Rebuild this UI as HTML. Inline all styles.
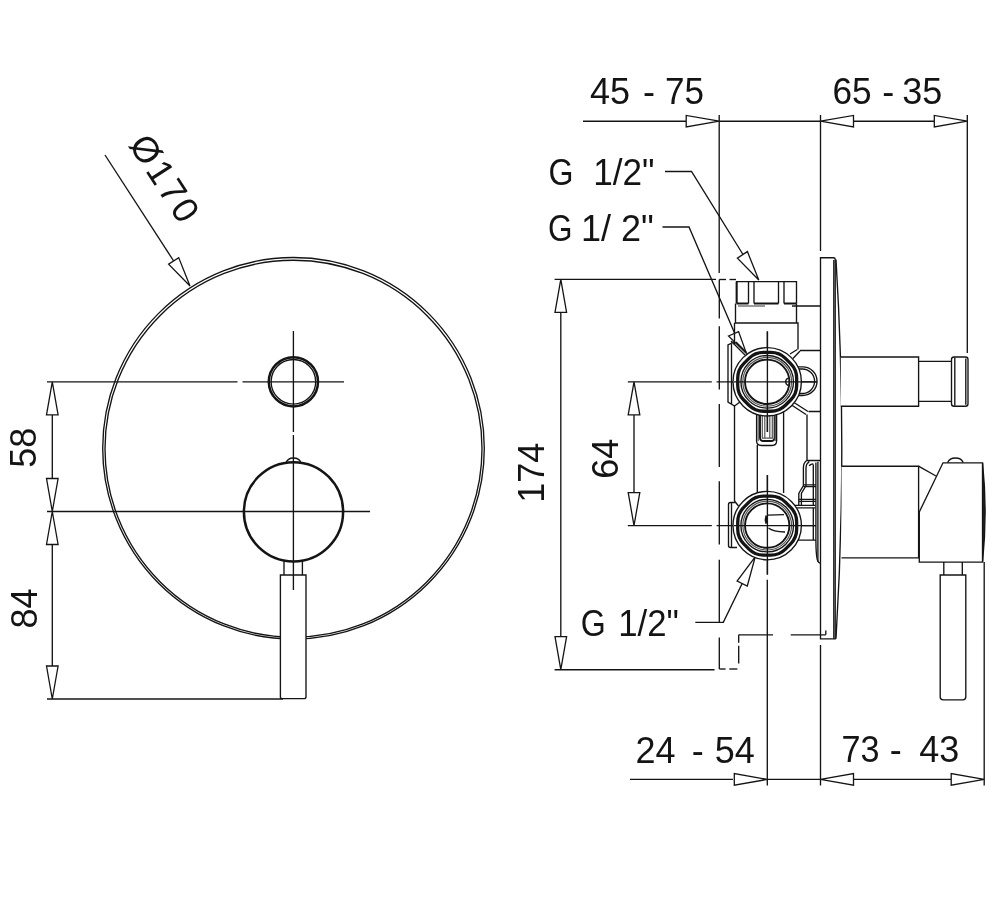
<!DOCTYPE html>
<html lang="en"><head><meta charset="utf-8"><title>Concealed mixer technical drawing</title>
<style>
html,body{margin:0;padding:0;background:#fff;}
body{width:1000px;height:911px;overflow:hidden;}
svg{display:block;}
text{font-family:"Liberation Sans",sans-serif;fill:#141414;}
.t{stroke:#141414;stroke-width:1.35;fill:none;}
.g{stroke:#555;stroke-width:1.2;fill:none;}
.m{stroke:#141414;stroke-width:1.9;fill:none;}
.k{stroke:#141414;stroke-width:2.5;fill:none;}
.kk{stroke:#141414;stroke-width:3.3;fill:none;stroke-linejoin:round;}
.a{stroke:#141414;stroke-width:1.3;fill:#fff;stroke-linejoin:miter;}
.w{fill:#fff;}
</style></head><body>
<svg width="1000" height="911" viewBox="0 0 1000 911">
<defs><filter id="gs" x="-20%" y="-20%" width="140%" height="140%" color-interpolation-filters="sRGB"><feColorMatrix type="saturate" values="0"/></filter></defs>
<rect x="0" y="0" width="1000" height="911" fill="#fff"/>
<!-- left figure -->
<circle class="t" cx="293.5" cy="448.3" r="190.8"/>
<circle class="t" cx="293.5" cy="448.7" r="188.5"/>
<line class="t" x1="47" y1="381.8" x2="237.5" y2="381.8"/>
<line class="t" x1="242.5" y1="381.8" x2="344" y2="381.8"/>
<line class="t" x1="47" y1="511.5" x2="370" y2="511.5"/>
<line class="t" x1="47" y1="699" x2="283" y2="699"/>
<line class="t" x1="293.4" y1="331" x2="293.4" y2="432"/>
<line class="t" x1="293.4" y1="435" x2="293.4" y2="590"/>
<circle class="k" cx="293.4" cy="381.8" r="24.6"/>
<circle class="t" cx="293.4" cy="381.8" r="22.3"/>
<path class="t" d="M285.8,463.2 C288,456.3 299,456.3 301.2,463.2"/>
<circle class="k" cx="293.5" cy="511.8" r="49.6"/>
<path class="t" d="M284,561 V575 M302.4,561 V575"/>
<path class="t w" d="M280.4,575 H306 V697 Q306,698.6 304,698.6 H282.4 Q280.4,698.6 280.4,697 Z"/>
<line class="t" x1="293.4" y1="575" x2="293.4" y2="590"/>
<line class="t" x1="52.3" y1="415" x2="52.3" y2="478"/>
<line class="t" x1="52.3" y1="545" x2="52.3" y2="666"/>
<polygon class="a" points="52.3,381.8 58.1,414.8 46.5,414.8"/>
<polygon class="a" points="52.3,511.5 46.5,478.5 58.1,478.5"/>
<polygon class="a" points="52.3,511.5 58.1,544.5 46.5,544.5"/>
<polygon class="a" points="52.3,699.0 46.5,666.0 58.1,666.0"/>
<g filter="url(#gs)"><text x="35.7" y="447.8" font-size="36" text-anchor="middle" transform="rotate(-90 35.7 447.8)">58</text></g>
<g filter="url(#gs)"><text x="36.5" y="608.5" font-size="36" text-anchor="middle" transform="rotate(-90 36.5 608.5)">84</text></g>
<line class="t" x1="105" y1="155" x2="174" y2="261.5"/>
<polygon class="a" points="190.0,286.0 168.6,264.1 178.7,257.6"/>
<g filter="url(#gs)"><text x="128" y="144.8" font-size="36" text-anchor="start" transform="rotate(57 128 144.8)" letter-spacing="2.6">Ø170</text></g>
<!-- right figure: dimensions -->
<line class="t" x1="583" y1="121.2" x2="686" y2="121.2"/>
<line class="t" x1="719.2" y1="121.2" x2="820.5" y2="121.2"/>
<line class="t" x1="854" y1="121.2" x2="934" y2="121.2"/>
<line class="t" x1="719.2" y1="115" x2="719.2" y2="273"/>
<line class="t" x1="820.5" y1="115" x2="820.5" y2="251"/>
<line class="t" x1="967.3" y1="115" x2="967.3" y2="353"/>
<polygon class="a" points="719.2,121.2 686.2,127.0 686.2,115.4"/>
<polygon class="a" points="820.5,121.2 853.5,115.4 853.5,127.0"/>
<polygon class="a" points="967.3,121.2 934.3,127.0 934.3,115.4"/>
<g filter="url(#gs)"><text x="590" y="104.3" font-size="36" text-anchor="start">45</text></g>
<g filter="url(#gs)"><text x="643" y="104.3" font-size="36" text-anchor="start">-</text></g>
<g filter="url(#gs)"><text x="665" y="104.3" font-size="36" text-anchor="start" textLength="39" lengthAdjust="spacingAndGlyphs">75</text></g>
<g filter="url(#gs)"><text x="832.4" y="104.3" font-size="36" text-anchor="start" textLength="39.2" lengthAdjust="spacingAndGlyphs">65</text></g>
<g filter="url(#gs)"><text x="882.2" y="104.3" font-size="36" text-anchor="start">-</text></g>
<g filter="url(#gs)"><text x="902.2" y="104.3" font-size="36" text-anchor="start">35</text></g>
<line class="t" x1="630" y1="779.4" x2="733" y2="779.4"/>
<line class="t" x1="767.3" y1="779.4" x2="820.5" y2="779.4"/>
<line class="t" x1="854" y1="779.4" x2="951" y2="779.4"/>
<line class="t" x1="767.3" y1="579.8" x2="767.3" y2="785.5"/>
<line class="t" x1="820.5" y1="645" x2="820.5" y2="785.5"/>
<line class="t" x1="984.2" y1="562" x2="984.2" y2="785.5"/>
<polygon class="a" points="767.3,779.4 734.3,785.2 734.3,773.6"/>
<polygon class="a" points="820.5,779.4 853.5,773.6 853.5,785.2"/>
<polygon class="a" points="984.2,779.4 951.2,785.2 951.2,773.6"/>
<g filter="url(#gs)"><text x="635.6" y="762.6" font-size="36" text-anchor="start">24</text></g>
<g filter="url(#gs)"><text x="691.8" y="762.6" font-size="36" text-anchor="start">-</text></g>
<g filter="url(#gs)"><text x="714.7" y="762.6" font-size="36" text-anchor="start">54</text></g>
<g filter="url(#gs)"><text x="841.6" y="762.4" font-size="36" text-anchor="start" textLength="38" lengthAdjust="spacingAndGlyphs">73</text></g>
<g filter="url(#gs)"><text x="889.8" y="762.4" font-size="36" text-anchor="start">-</text></g>
<g filter="url(#gs)"><text x="919.2" y="762.4" font-size="36" text-anchor="start">43</text></g>
<line class="t" x1="554.6" y1="279.3" x2="716" y2="279.3"/>
<line class="t" x1="554.6" y1="669.7" x2="714.5" y2="669.7"/>
<line class="t" x1="560.8" y1="312" x2="560.8" y2="636"/>
<polygon class="a" points="560.8,279.3 566.6,312.3 555.0,312.3"/>
<polygon class="a" points="560.8,669.7 555.0,636.7 566.6,636.7"/>
<g filter="url(#gs)"><text x="544" y="472.8" font-size="36" text-anchor="middle" transform="rotate(-90 544 472.8)">174</text></g>
<line class="t" x1="627.8" y1="381.8" x2="711.8" y2="381.8"/>
<line class="t" x1="627.8" y1="525.6" x2="711.8" y2="525.6"/>
<line class="t" x1="634" y1="415" x2="634" y2="492"/>
<polygon class="a" points="634.0,381.8 639.8,414.8 628.2,414.8"/>
<polygon class="a" points="634.0,525.6 628.2,492.6 639.8,492.6"/>
<g filter="url(#gs)"><text x="617.6" y="458.8" font-size="36" text-anchor="middle" transform="rotate(-90 617.6 458.8)">64</text></g>
<g filter="url(#gs)"><text x="548.5" y="185" font-size="36" text-anchor="start" textLength="25" lengthAdjust="spacingAndGlyphs">G</text></g>
<g filter="url(#gs)"><text x="593.3" y="185" font-size="36" text-anchor="start" textLength="61.3" lengthAdjust="spacingAndGlyphs">1/2"</text></g>
<g filter="url(#gs)"><text x="548" y="240.5" font-size="36" text-anchor="start" textLength="24.5" lengthAdjust="spacingAndGlyphs">G</text></g>
<g filter="url(#gs)"><text x="581" y="240.5" font-size="36" text-anchor="start">1/</text></g>
<g filter="url(#gs)"><text x="621" y="240.5" font-size="36" text-anchor="start">2"</text></g>
<g filter="url(#gs)"><text x="580.7" y="636" font-size="36" text-anchor="start" textLength="25" lengthAdjust="spacingAndGlyphs">G</text></g>
<g filter="url(#gs)"><text x="618.2" y="636" font-size="36" text-anchor="start" textLength="60.6" lengthAdjust="spacingAndGlyphs">1/2"</text></g>
<path class="t" d="M665,171.5 H691.5 L743,254.5"/>
<polygon class="a" points="758.8,280.0 737.4,258.1 747.4,251.6"/>
<path class="t" d="M662.5,227 H689 L735,334"/>
<polygon class="a" points="728.5,336 738.6,331.6 746.5,353.6"/>
<path class="t" d="M695.3,622.3 H723.3 L742.3,583.3"/>
<polygon class="a" points="755.2,556.9 747.3,586.0 737.1,581.0"/>
<!-- right figure: hidden/dashed outline -->
<line class="t" x1="719.3" y1="279.5" x2="719.3" y2="318.4"/>
<line class="t" x1="719.3" y1="326.3" x2="719.3" y2="389.6"/>
<line class="t" x1="719.3" y1="404" x2="719.3" y2="466.9"/>
<line class="t" x1="719.3" y1="481.3" x2="719.3" y2="544.6"/>
<line class="t" x1="719.3" y1="559.8" x2="719.3" y2="622.3"/>
<line class="t" x1="719.3" y1="637.6" x2="719.3" y2="669"/>
<line class="t" x1="719.3" y1="279.5" x2="726" y2="279.5"/>
<line class="t" x1="729.5" y1="279.5" x2="736" y2="279.5"/>
<line class="t" x1="719.3" y1="669" x2="725.6" y2="669"/>
<line class="t" x1="729.3" y1="669" x2="737.4" y2="669"/>
<line class="t" x1="738.7" y1="634.8" x2="738.7" y2="642.8"/>
<line class="t" x1="738.7" y1="645.7" x2="738.7" y2="663.5"/>
<line class="t" x1="738.7" y1="634.8" x2="773" y2="634.8"/>
<!-- right figure: valve body -->
<line class="t" x1="716.6" y1="381.8" x2="817" y2="381.8"/>
<line class="t" x1="716.6" y1="525.6" x2="815.9" y2="525.6"/>
<line class="t" x1="767.4" y1="331.4" x2="767.4" y2="432"/>
<line class="t" x1="767.4" y1="475" x2="767.4" y2="574.6"/>
<path class="t" d="M736.5,303.5 V281.6 H796.5 V303.5 M748.5,281.6 V303.5 M754,281.6 V303.5 M778.5,281.6 V303.5 M784,281.6 V303.5"/>
<path class="m" d="M736.5,303.5 H748.5 M754,303.5 H778.5 M784,303.5 H796.5 M736.7,282 V303"/>
<path class="g" d="M738,306 H765"/>
<path class="t" d="M792,306 H820.4 M735.5,303.5 V323 M734.5,323 V345 M796.5,303.5 V323 M734.5,323 H798 V349.5 M800,350.5 H820.4"/>
<path class="t" d="M790,354 L797.3,349.5 M793,358.5 L800,351"/>
<path class="t" d="M734.5,406 V501 M757.3,445 V493 M783.6,411 V493 M807,414.5 V460.5 M794,402.5 L808,411.5 M791.5,405 L806,414.5 M808.5,411.5 H820.4"/>
<path class="t" d="M756.6,411 V441 Q756.6,445.5 761.5,445.5 H772 Q776.6,445.5 776.6,441 V411"/>
<path class="m" d="M760,413 V437.5 Q760,441 763.5,441 H771 Q774.6,441 774.6,437.5 V413"/>
<path class="g" d="M758.2,412 V441 M762.3,413 V438.2 M764.8,413 V438.2 M769.8,413 V438.2 M772.3,413 V438.2 M775.2,412 V441 M762,438.2 H773"/>
<path class="t" d="M734.8,341.5 L728,345 V402 L734.5,406 L740,402 M731.5,344 V404 M731,341 L745,355 M736,342 L746.5,352.5"/>
<path class="t" d="M736,502.5 H730.5 Q728.5,502.5 728.5,504.5 V545.5 Q728.5,547.5 730.5,547.5 H737 M731.5,503 V547 M734.5,501 L738.5,506"/>
<path class="t" d="M797,366.8 H802.7 A14.35,14.35 0 0 1 802.7,395.5 H797 M797,369 H802.3 A12.25,12.25 0 0 1 802.3,393.5 H797"/>
<path class="t" d="M806.7,460.5 Q803.4,463 803.4,467.5 V485.5 L798.8,493.4 V505.3 M809.3,461.5 Q806,464 806,468 V485.5 L801.4,493.4 V505.3 M806.7,460.5 H820.5 M813.3,464.5 V505.3 M815.9,462.5 V540.1 M817.9,461.8 V561.8 M809.3,466 Q810,463.8 813.3,463.8"/>
<path class="t" d="M803.4,484.9 H815.9 M803.4,486.6 H815.9 M798.8,499.3 H815.9 M798.8,501.3 H815.9 M794.9,505.3 H815.3 M794.9,507.9 H815.3 M813.3,507.9 V540.1 M797.5,540.1 H815.9 M815.9,540.1 Q816,555 817.2,559.2 Q818,563 820.5,563.2"/>
<circle class="t w" cx="767.2" cy="381.8" r="34.2"/>
<path class="kk" d="M796.67,385.51 Q796.67,394.01 790.66,400.02 L785.42,405.26 Q779.41,411.27 770.91,411.27 L763.49,411.27 Q754.99,411.27 748.98,405.26 L743.74,400.02 Q737.73,394.01 737.73,385.51 L737.73,378.09 Q737.73,369.59 743.74,363.58 L748.98,358.34 Q754.99,352.33 763.49,352.33 L770.91,352.33 Q779.41,352.33 785.42,358.34 L790.66,363.58 Q796.67,369.59 796.67,378.09 Z"/>
<circle class="t" cx="767.2" cy="381.8" r="26.3"/>
<circle class="g" cx="767.2" cy="381.8" r="24.4"/>
<circle class="m" cx="767.2" cy="381.8" r="22.2"/>
<circle class="t w" cx="767.2" cy="525.6" r="34.2"/>
<path class="kk" d="M796.67,529.31 Q796.67,537.81 790.66,543.82 L785.42,549.06 Q779.41,555.07 770.91,555.07 L763.49,555.07 Q754.99,555.07 748.98,549.06 L743.74,543.82 Q737.73,537.81 737.73,529.31 L737.73,521.89 Q737.73,513.39 743.74,507.38 L748.98,502.14 Q754.99,496.13 763.49,496.13 L770.91,496.13 Q779.41,496.13 785.42,502.14 L790.66,507.38 Q796.67,513.39 796.67,521.89 Z"/>
<circle class="t" cx="767.2" cy="525.6" r="26.3"/>
<circle class="g" cx="767.2" cy="525.6" r="24.4"/>
<circle class="m" cx="767.2" cy="525.6" r="22.2"/>
<line class="t" x1="734" y1="381.8" x2="817" y2="381.8"/>
<line class="t" x1="734" y1="525.6" x2="815.9" y2="525.6"/>
<line class="t" x1="767.4" y1="331.4" x2="767.4" y2="432"/>
<line class="t" x1="767.4" y1="475" x2="767.4" y2="574.6"/>
<path class="t" d="M788.6,378.1 A3.8,3.8 0 0 0 788.6,385.5"/>
<path class="t" d="M784,514.6 L768,515.2 M768.5,528 Q773,531.6 785,532"/><path class="k" d="M766.6,515.6 Q765.2,519.5 766.6,523.5"/>
<!-- right figure: plate and handles -->
<path class="t w" d="M820.5,257.7 H833.5 Q835.2,257.7 835.2,259.5 V638.8 H820.5 Z"/>
<line class="t" x1="833.8" y1="260" x2="833.8" y2="638.8"/>
<path class="t" d="M836,259.5 Q847.6,449 836,638.8"/>
<line class="t" x1="790.7" y1="634.8" x2="825.8" y2="634.8"/>
<line class="t" x1="825.8" y1="630.5" x2="825.8" y2="634.8"/>
<path class="t w" d="M840.8,357 H918.6 V406.2 H840.8"/>
<path class="t" d="M918.6,361.4 H951.5 M918.6,401.4 H951.5"/>
<rect class="t w" x="951.5" y="357" width="16.5" height="49.2" rx="2.5"/>
<line class="t" x1="954.8" y1="357.5" x2="954.8" y2="405.7"/>
<line class="t" x1="965.8" y1="358.5" x2="965.8" y2="404.7"/>
<path class="t w" d="M841.5,466.2 H918.6 V557.8 H841.5"/>
<path class="t" d="M947.5,462.8 C950,456.4 961,456.4 963.3,462.8"/>
<path class="t w" d="M919.3,512 L943,462.8 H982.6 V562.1 H919.3 Z"/>
<path class="t" style="fill:#222" d="M982.6,463.2 Q987.6,512 982.6,561.8 Z"/>
<path class="t" d="M918.5,466.2 L936,476"/>
<path class="t" d="M943.8,562.1 V575 M962.3,562.1 V575"/>
<path class="t w" d="M940.2,575 H965.8 V697 Q965.8,699.8 962.9,699.8 H943.1 Q940.2,699.8 940.2,697 Z"/>
</svg>
</body></html>
